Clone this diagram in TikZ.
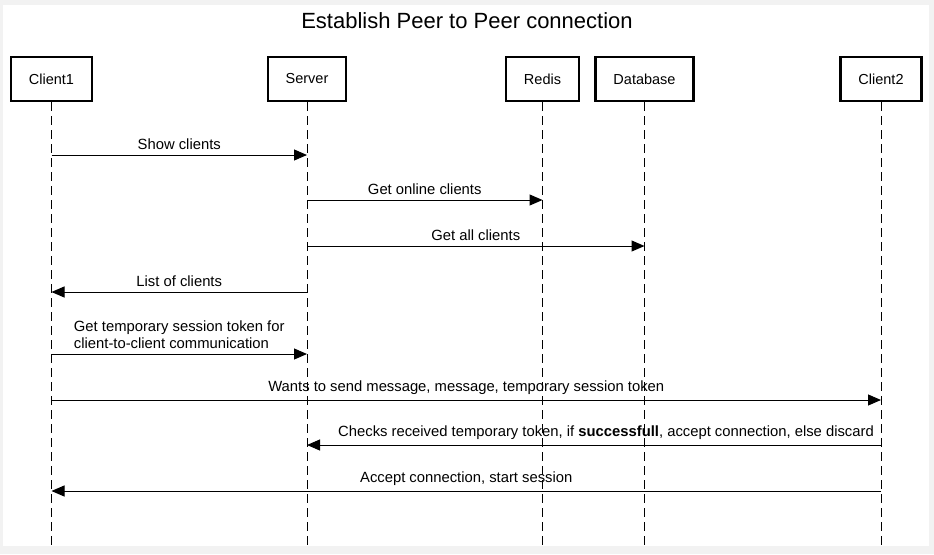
\documentclass[tikz,border=0pt]{standalone}
\usepackage{fontspec}
\setmainfont{Liberation Sans}
\usetikzlibrary{arrows.meta}

\tikzset{
  actor/.style={draw, line width=2.2pt, minimum height=44pt, inner xsep=18pt, fill=white,
    font=\fontsize{14.5}{17}\selectfont},
  life/.style={line width=1pt, dash pattern=on 9pt off 5pt},
  msg/.style={line width=1pt, -{Triangle[length=13pt,width=11pt]}},
  lbl/.style={above=5pt, inner sep=0pt, font=\fontsize{14.8}{16.5}\selectfont}
}

\begin{document}
\begin{tikzpicture}[x=1pt,y=1pt,yscale=-1]
%background
\fill [black!5] (0,0) rectangle (934,554);
\fill [white] (3,5) rectangle (929,546);

%Title
\node (title) at (467,21) {\fontsize{22}{26}\selectfont Establish Peer to Peer connection};

%Actors
\node [actor] (client1) at (51.5,79) {Client1};
\node [actor] (server) at (307,79) {Server};
\node [actor] (redis) at (542.5,79) {Redis};
\node [actor] (database) at (644.5,79) {Database};
\node [actor] (client2) at (881,79) {Client2};

%Lifelines
\foreach \a in {client1,server,redis,database,client2}
  \draw [life] (\a.south) -- (\a |- 0,546);

%Messages
\draw [msg] (client1 |- 0,155) -- node [lbl] {Show clients} (server |- 0,155);
\draw [msg] (server |- 0,200) -- node [lbl] {Get online clients} (redis |- 0,200);
\draw [msg] (server |- 0,246) -- node [lbl] {Get all clients} (database |- 0,246);
\draw [msg] (server |- 0,292) -- node [lbl] {List of clients} (client1 |- 0,292);
\draw [msg] (client1 |- 0,354) -- node [lbl, align=left] {Get temporary session token for\\client-to-client communication} (server |- 0,354);
\draw [msg] (client1 |- 0,400) -- node [lbl] {Wants to send message, message, temporary session token} (client2 |- 0,400);
\draw [msg] (client2 |- 0,445) -- node [lbl, xshift=12pt] {Checks received temporary token, if \textbf{successfull}, accept connection, else discard} (server |- 0,445);
\draw [msg] (client2 |- 0,491) -- node [lbl] {Accept connection, start session} (client1 |- 0,491);

\end{tikzpicture}
\end{document}
